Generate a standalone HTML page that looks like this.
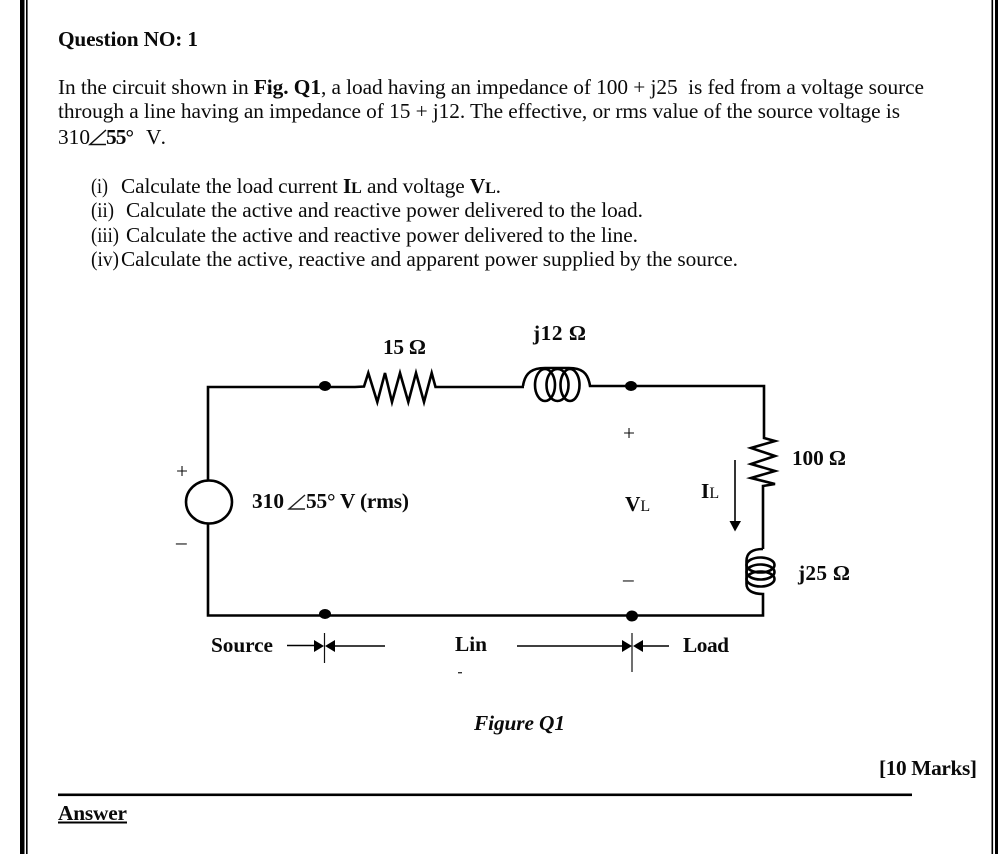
<!DOCTYPE html>
<html><head><meta charset="utf-8"><title>Question 1</title>
<style>
html,body{margin:0;padding:0;background:#fff}
svg{display:block}
text{font-family:"Liberation Serif",serif;font-size:21.33px;fill:#0a0a0a}
.b{font-weight:bold}
.w{fill:none;stroke:#000;stroke-width:2.6;stroke-linejoin:miter}
.t{fill:none;stroke:#000;stroke-width:2.6}
.s{font-size:16px}
</style></head>
<body>
<svg width="998" height="854" viewBox="0 0 998 854" xmlns="http://www.w3.org/2000/svg">
<rect x="20" y="0" width="4.5" height="854" fill="#000"/>
<rect x="26" y="0" width="1.6" height="854" fill="#000"/>
<rect x="991.5" y="0" width="1.6" height="854" fill="#000"/>
<rect x="995" y="0" width="3" height="854" fill="#000"/>

<text x="58" y="46" class="b" textLength="140">Question NO: 1</text>
<text x="58" y="94" textLength="866">In the circuit shown in <tspan class="b">Fig. Q1</tspan>, a load having an impedance of 100 + j25&#160; is fed from a voltage source</text>
<text x="58" y="118" textLength="842">through a line having an impedance of 15 + j12. The effective, or rms value of the source voltage is</text>
<text x="58" y="144" textLength="32">310</text>
<path d="M106 130 L90 144.5 H106" fill="none" stroke="#111" stroke-width="1.5"/>
<text x="106" y="144" class="b" textLength="28">55°</text>
<text x="146" y="144" textLength="20">V.</text>

<text x="91" y="193" textLength="17" lengthAdjust="spacingAndGlyphs">(i)</text>
<text x="121" y="193" textLength="380">Calculate the load current <tspan class="b">I</tspan><tspan class="b s">L</tspan> and voltage <tspan class="b">V</tspan><tspan class="b s">L</tspan>.</text>
<text x="91" y="217" textLength="23" lengthAdjust="spacingAndGlyphs">(ii)</text>
<text x="126" y="217" textLength="517">Calculate the active and reactive power delivered to the load.</text>
<text x="91" y="242" textLength="28" lengthAdjust="spacingAndGlyphs">(iii)</text>
<text x="126" y="242" textLength="512">Calculate the active and reactive power delivered to the line.</text>
<text x="91" y="266" textLength="28" lengthAdjust="spacingAndGlyphs">(iv)</text>
<text x="121" y="266" textLength="617">Calculate the active, reactive and apparent power supplied by the source.</text>

<text x="383" y="354" class="b" textLength="43">15 Ω</text>
<text x="533" y="340" class="b" textLength="53">j12 Ω</text>
<text x="792" y="465" class="b" textLength="54">100 Ω</text>
<text x="798" y="580" class="b" textLength="52">j25 Ω</text>
<text x="252" y="508" class="b" textLength="32">310</text>
<path d="M305 495 L289 509 H305" fill="none" stroke="#222" stroke-width="1.4"/>
<text x="306" y="508" class="b" textLength="103">55° V (rms)</text>
<text x="176" y="478">+</text>
<text x="176" y="549">–</text>
<text x="623" y="440">+</text>
<text x="623" y="586">–</text>
<text x="625" y="511" class="b">V<tspan class="s" font-weight="normal">L</tspan></text>
<text x="701" y="498" class="b">I<tspan class="s" font-weight="normal">L</tspan></text>
<text x="211" y="652" class="b" textLength="62">Source</text>
<text x="455" y="651" class="b" textLength="32">Lin</text>
<text x="683" y="652" class="b" textLength="46">Load</text>
<rect x="458" y="672" width="4" height="1.4" fill="#333"/>
<text x="474" y="730" class="b" style="font-style:italic" textLength="91">Figure Q1</text>
<text x="879" y="775" class="b" textLength="98">[10 Marks]</text>
<text x="58" y="820" class="b" textLength="69">Answer</text>
<rect x="58" y="821.5" width="69" height="2" fill="#000"/>
<rect x="58" y="793.5" width="854" height="2.6" fill="#000"/>

<!-- circuit -->
<path class="w" d="M208 481 V387 H355 L364 386.5 L368.3 373 L377.3 402 L385 373 L392 402 L400 373 L408.3 402 L416 373 L424 402 L431.7 373 L435.5 387 H524"/>
<path class="w" d="M523 386 C525 372 533 368 545 368 H569 C581 368 588 372 590 386 H764 V438 L775 441 L751 448 L775 456 L751 464 L775 471 L751 478 L775 484 L763 486 V549"/>
<ellipse class="t" cx="545" cy="385" rx="10" ry="16"/>
<ellipse class="t" cx="557.5" cy="385" rx="11" ry="16"/>
<ellipse class="t" cx="570" cy="385" rx="9.5" ry="16"/>
<path class="w" d="M763 549 C752 549 746.5 553 746.5 561 V584 C746.5 590 752 594 763 594 V615.5 H208 V524"/>
<ellipse class="t" cx="760.5" cy="565" rx="14" ry="7.5"/>
<ellipse class="t" cx="760.5" cy="572" rx="14" ry="7.5"/>
<ellipse class="t" cx="760.5" cy="579" rx="14" ry="7.5"/>
<ellipse class="w" cx="209" cy="502" rx="23" ry="21.5"/>
<ellipse cx="325" cy="386" rx="6" ry="5"/>
<ellipse cx="631" cy="386" rx="6" ry="5"/>
<ellipse cx="325" cy="614" rx="6" ry="5"/>
<ellipse cx="632" cy="616" rx="6" ry="5.5"/>

<!-- current arrow -->
<path d="M735 460 V523" stroke="#000" stroke-width="1.6" fill="none"/>
<path d="M729.5 521 H741 L735 531.5 Z"/>

<!-- dimension arrows -->
<path d="M287 645.5 H318 M335 646 H385 M517 646 H625 M642 646 H669" stroke="#000" stroke-width="1.6" fill="none"/>
<path d="M324.5 633 V663 M632 633 V672" stroke="#111" stroke-width="1.2" fill="none"/>
<path d="M314 640 L324 646 L314 652 Z M325 646 L335 640 V652 Z M622 640 L632 646 L622 652 Z M633 646 L643 640 V652 Z"/>
</svg>
</body></html>
